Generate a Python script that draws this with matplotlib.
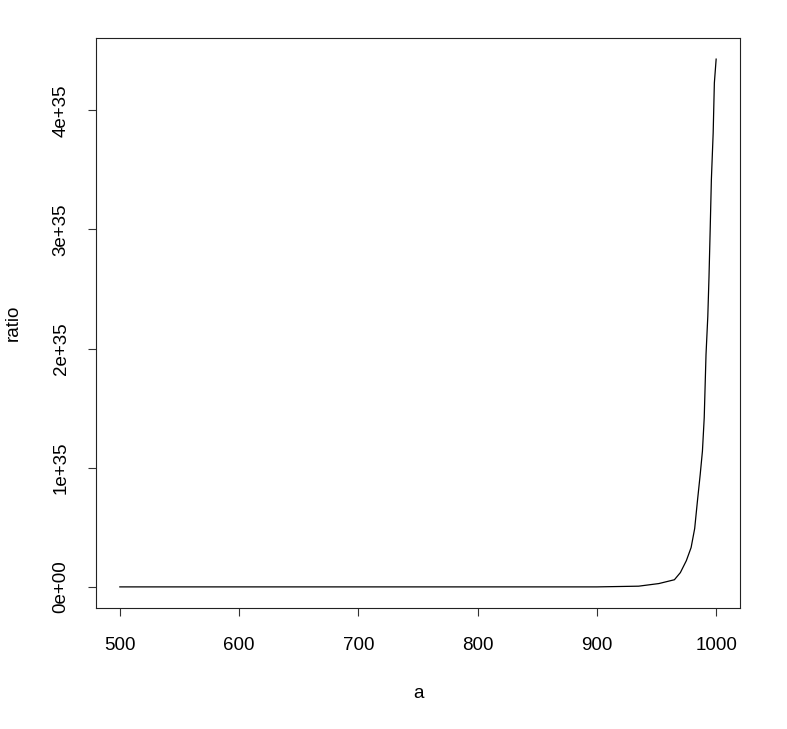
import matplotlib
matplotlib.use("Agg")
import matplotlib.pyplot as plt

a_vals = [500, 900, 935, 952, 965, 970, 975, 979, 982, 984.3, 986.6, 988.5,
          990, 991.5, 993, 994, 995, 996, 997.5, 998.5, 1000]
ratio_vals = [0, 0, 0.006e35, 0.028e35, 0.06e35, 0.12e35, 0.22e35, 0.33e35,
              0.49e35, 0.72e35, 0.94e35, 1.14e35, 1.42e35, 1.95e35, 2.27e35,
              2.60e35, 3.00e35, 3.42e35, 3.81e35, 4.23e35, 4.43e35]
x_ticks = [500, 600, 700, 800, 900, 1000]
y_ticks = [0, 1e35, 2e35, 3e35, 4e35]
y_tick_labels = ["0e+00", "1e+35", "2e+35", "3e+35", "4e+35"]

plt.rcParams['font.family'] = ['Liberation Sans', 'DejaVu Sans']

fig = plt.figure(figsize=(7.87, 7.29), dpi=100)
ax = fig.add_axes([96/787, 1-608/729, (740-96)/787, (608-38)/729])
ax.plot(a_vals, ratio_vals, color='black', linewidth=0.9)

xr = max(a_vals) - min(a_vals)
ax.set_xlim(min(a_vals) - 0.04*xr, max(a_vals) + 0.04*xr)
yr = max(ratio_vals) - min(ratio_vals)
ax.set_ylim(min(ratio_vals) - 0.04*yr, max(ratio_vals) + 0.04*yr)

fs = 13.5
ax.set_xticks(x_ticks)
ax.set_xticklabels([str(t) for t in x_ticks], fontsize=fs)
ax.set_yticks(y_ticks)
ax.set_yticklabels(y_tick_labels, fontsize=fs, rotation=90, va='center')
ax.tick_params(direction='out', length=6, width=0.8, color='#333333')
ax.tick_params(axis='x', pad=15)
ax.tick_params(axis='y', pad=13)
for s in ax.spines.values():
    s.set_linewidth(0.8)
    s.set_color('#222222')

ax.set_xlabel('a', fontsize=fs, labelpad=22)
ax.set_ylabel('ratio', fontsize=fs, labelpad=22)

fig.savefig('out.png', dpi=100)
